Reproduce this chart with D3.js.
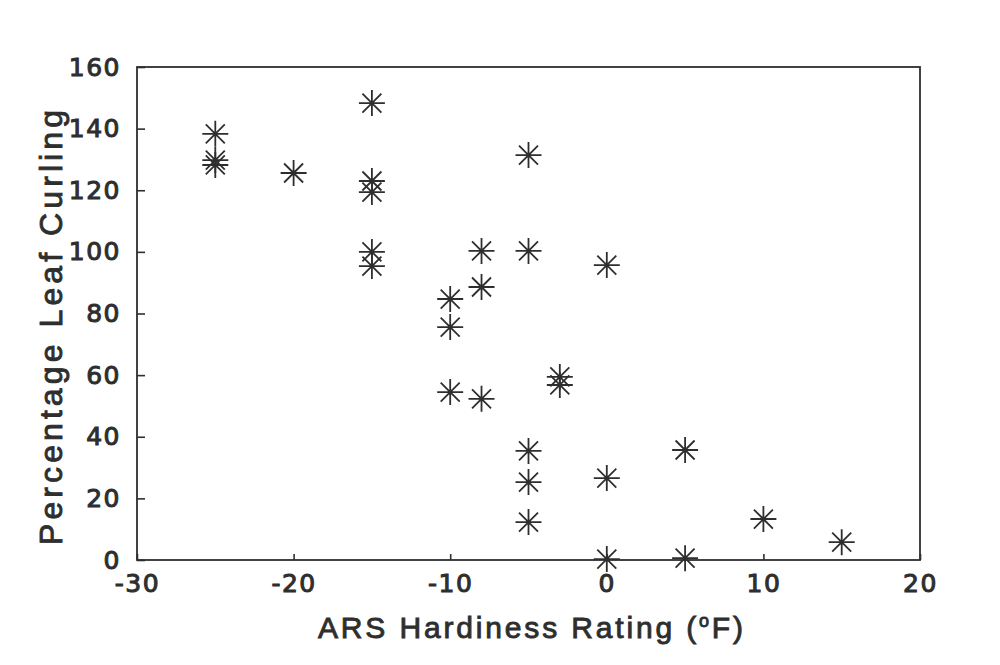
<!DOCTYPE html>
<html><head><meta charset="utf-8">
<script src="https://cdn.jsdelivr.net/npm/d3@7"></script>
<style>body{margin:0;background:#fff}svg{display:block}</style>
</head><body>
<script>
const hardiness = [-25,-25,-25,-20,-15,-15,-15,-15,-15,-10,-10,-10,-8,-8,-8,-5,-5,-5,-5,-5,-3,-3,0,0,0,5,5,10,15];
const curling   = [138.3,129.8,128.2,125.6,148.3,123,119.4,100,95.4,84.7,75.6,54.5,100.3,88.6,52.3,131.4,100.3,35.4,25.3,12.3,59.4,56.8,95.7,26.6,0.3,35.7,0.6,13.3,5.8];
const xTicks = [-30,-20,-10,0,10,20];
const yTicks = [0,20,40,60,80,100,120,140,160];

const W=1000,H=665;
const m={l:137,r:80,t:67,b:105};
const svg=d3.select("body").append("svg").attr("width",W).attr("height",H);
const x=d3.scaleLinear().domain([-30,20]).range([m.l,W-m.r]);
const y=d3.scaleLinear().domain([0,160]).range([H-m.b,m.t]);
const ink="#2e2e2e";
const font="'DejaVu Sans', 'Liberation Sans', Arial, sans-serif";
const tfont="'Liberation Sans', Arial, sans-serif";

svg.append("rect").attr("x",m.l).attr("y",m.t).attr("width",W-m.r-m.l).attr("height",H-m.b-m.t)
  .attr("fill","none").attr("stroke",ink).attr("stroke-width",1.8);

const xa=svg.append("g").attr("transform",`translate(0,${H-m.b})`)
  .call(d3.axisBottom(x).tickValues(xTicks).tickSize(-6).tickPadding(14).tickFormat(d=>d<0?"-"+Math.abs(d):d));
const ya=svg.append("g").attr("transform",`translate(${m.l},0)`)
  .call(d3.axisLeft(y).tickValues(yTicks).tickSize(-8).tickPadding(16).tickFormat(d3.format("d")));
[xa,ya].forEach(a=>{a.select(".domain").remove();
  a.selectAll("line").attr("stroke",ink).attr("stroke-width",1.6);
  a.selectAll("text").attr("fill",ink).attr("stroke",ink).attr("stroke-width",1)
   .style("font-family",font).style("font-size","25px").style("letter-spacing","1.5px");});

const pts=hardiness.map((h,i)=>[h,curling[i]]);
const R=13, D=9.5;
const g=svg.append("g").attr("stroke",ink).attr("stroke-width",1.8).attr("fill","none");
pts.forEach(([h,c])=>{
  const cx=x(h), cy=y(c);
  g.append("path").attr("d",`M${cx},${cy-R}V${cy+R}M${cx-R},${cy}H${cx+R}M${cx-D},${cy-D}L${cx+D},${cy+D}M${cx-D},${cy+D}L${cx+D},${cy-D}`);
});

svg.append("text").attr("x",318).attr("y",638)
  .attr("textLength",425).attr("lengthAdjust","spacing")
  .attr("fill",ink).attr("stroke",ink).attr("stroke-width",0.9).style("font-family",tfont).style("font-size","30px")
  .html("ARS Hardiness Rating (<tspan dy='-11' font-size='18'>o</tspan><tspan dy='11'>F)</tspan>");
svg.append("text").attr("transform","translate(62,545) rotate(-90)")
  .attr("textLength",435).attr("lengthAdjust","spacing")
  .attr("fill",ink).attr("stroke",ink).attr("stroke-width",0.9).style("font-family",tfont).style("font-size","32px")
  .text("Percentage Leaf Curling");
</script>
</body></html>
